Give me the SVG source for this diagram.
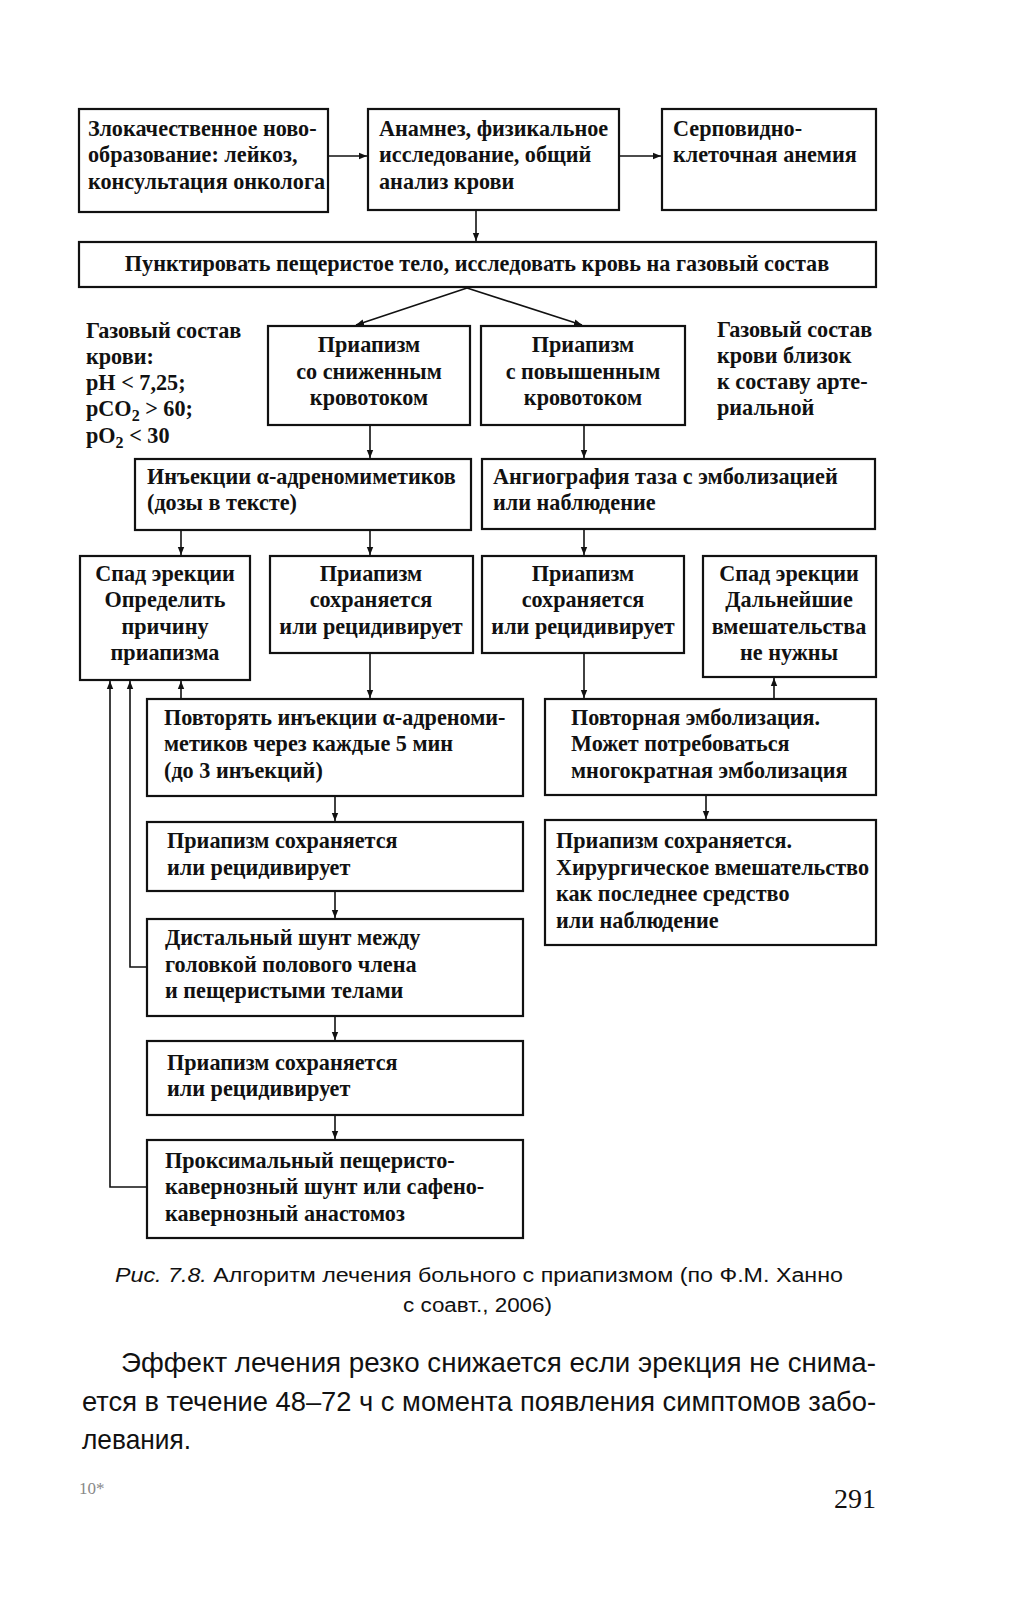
<svg xmlns="http://www.w3.org/2000/svg" width="1030" height="1600" viewBox="0 0 1030 1600">
<style>
.box{fill:#fff;stroke:#111;stroke-width:2.2}
.t{font-family:"Liberation Serif","Times New Roman",serif;font-size:22.2px;font-weight:bold;fill:#111}
.c{text-anchor:middle}
.ln{fill:none;stroke:#111;stroke-width:1.6}
.cap{font-family:"Liberation Sans",Arial,sans-serif;font-size:20px;fill:#111}
.body{font-family:"Liberation Sans",Arial,sans-serif;font-size:27.5px;fill:#111}
</style>
<defs>
<marker id="ah" viewBox="0 0 10 10" refX="10" refY="5" markerWidth="8" markerHeight="8" markerUnits="userSpaceOnUse" orient="auto">
<path d="M0,1 L10,5 L0,9 Z" fill="#111"/>
</marker>
</defs>
<rect width="1030" height="1600" fill="#fff"/>

<g id="connectors">
<line class="ln" x1="328" y1="156" x2="367" y2="156" marker-end="url(#ah)"/>
<line class="ln" x1="619" y1="156" x2="661" y2="156" marker-end="url(#ah)"/>
<line class="ln" x1="476" y1="210" x2="476" y2="241" marker-end="url(#ah)"/>
<line class="ln" x1="467" y1="288" x2="356" y2="325" marker-end="url(#ah)"/>
<line class="ln" x1="467" y1="288" x2="582" y2="325" marker-end="url(#ah)"/>
<line class="ln" x1="370" y1="425" x2="370" y2="458" marker-end="url(#ah)"/>
<line class="ln" x1="584" y1="425" x2="584" y2="458" marker-end="url(#ah)"/>
<line class="ln" x1="181" y1="530" x2="181" y2="555" marker-end="url(#ah)"/>
<line class="ln" x1="370" y1="530" x2="370" y2="555" marker-end="url(#ah)"/>
<line class="ln" x1="584" y1="529" x2="584" y2="555" marker-end="url(#ah)"/>
<line class="ln" x1="370" y1="653" x2="370" y2="698" marker-end="url(#ah)"/>
<line class="ln" x1="584" y1="653" x2="584" y2="698" marker-end="url(#ah)"/>
<line class="ln" x1="774" y1="699" x2="774" y2="678" marker-end="url(#ah)"/>
<line class="ln" x1="181" y1="699" x2="181" y2="681" marker-end="url(#ah)"/>
<line class="ln" x1="706" y1="795" x2="706" y2="819" marker-end="url(#ah)"/>
<line class="ln" x1="335" y1="796" x2="335" y2="821" marker-end="url(#ah)"/>
<line class="ln" x1="335" y1="891" x2="335" y2="918" marker-end="url(#ah)"/>
<line class="ln" x1="335" y1="1016" x2="335" y2="1040" marker-end="url(#ah)"/>
<line class="ln" x1="335" y1="1115" x2="335" y2="1139" marker-end="url(#ah)"/>
<polyline class="ln" points="147,967 130,967 130,681" marker-end="url(#ah)"/>
<polyline class="ln" points="147,1187 110,1187 110,681" marker-end="url(#ah)"/>
</g>

<g id="n-malign">
<rect class="box" x="79" y="109" width="249" height="103"/>
<text class="t" x="88" y="136">Злокачественное ново-</text>
<text class="t" x="88" y="162">образование: лейкоз,</text>
<text class="t" x="88" y="189">консультация онколога</text>
</g>
<g id="n-anamnesis">
<rect class="box" x="368" y="109" width="251" height="101"/>
<text class="t" x="379" y="136">Анамнез, физикальное</text>
<text class="t" x="379" y="162">исследование, общий</text>
<text class="t" x="379" y="189">анализ крови</text>
</g>
<g id="n-sickle">
<rect class="box" x="662" y="109" width="214" height="101"/>
<text class="t" x="673" y="136">Серповидно-</text>
<text class="t" x="673" y="162">клеточная анемия</text>
</g>
<g id="n-puncture">
<rect class="box" x="79" y="242" width="797" height="45"/>
<text class="t c" x="477" y="271">Пунктировать пещеристое тело, исследовать кровь на газовый состав</text>
</g>
<g id="note-left">
<text class="t" x="86" y="338">Газовый состав</text>
<text class="t" x="86" y="364">крови:</text>
<text class="t" x="86" y="390">pH &lt; 7,25;</text>
<text class="t" x="86" y="416">pCO<tspan font-size="16" dy="5">2</tspan><tspan dy="-5"> &gt; 60;</tspan></text>
<text class="t" x="86" y="443">pO<tspan font-size="16" dy="5">2</tspan><tspan dy="-5"> &lt; 30</tspan></text>
</g>
<g id="note-right">
<text class="t" x="717" y="337">Газовый состав</text>
<text class="t" x="717" y="363">крови близок</text>
<text class="t" x="717" y="389">к составу арте-</text>
<text class="t" x="717" y="415">риальной</text>
</g>
<g id="n-lowflow">
<rect class="box" x="268" y="326" width="202" height="99"/>
<text class="t c" x="369" y="352">Приапизм</text>
<text class="t c" x="369" y="379">со сниженным</text>
<text class="t c" x="369" y="405">кровотоком</text>
</g>
<g id="n-highflow">
<rect class="box" x="481" y="326" width="204" height="99"/>
<text class="t c" x="583" y="352">Приапизм</text>
<text class="t c" x="583" y="379">с повышенным</text>
<text class="t c" x="583" y="405">кровотоком</text>
</g>
<g id="n-inject">
<rect class="box" x="135" y="459" width="336" height="71"/>
<text class="t" x="147" y="484">Инъекции α-адреномиметиков</text>
<text class="t" x="147" y="510">(дозы в тексте)</text>
</g>
<g id="n-angio">
<rect class="box" x="482" y="459" width="393" height="70"/>
<text class="t" x="493" y="484">Ангиография таза с эмболизацией</text>
<text class="t" x="493" y="510">или наблюдение</text>
</g>
<g id="n-detum1">
<rect class="box" x="80" y="556" width="170" height="124"/>
<text class="t c" x="165" y="581">Спад эрекции</text>
<text class="t c" x="165" y="607">Определить</text>
<text class="t c" x="165" y="634">причину</text>
<text class="t c" x="165" y="660">приапизма</text>
</g>
<g id="n-persist1">
<rect class="box" x="270" y="556" width="203" height="97"/>
<text class="t c" x="371" y="581">Приапизм</text>
<text class="t c" x="371" y="607">сохраняется</text>
<text class="t c" x="371" y="634">или рецидивирует</text>
</g>
<g id="n-persist2">
<rect class="box" x="482" y="556" width="202" height="97"/>
<text class="t c" x="583" y="581">Приапизм</text>
<text class="t c" x="583" y="607">сохраняется</text>
<text class="t c" x="583" y="634">или рецидивирует</text>
</g>
<g id="n-detum2">
<rect class="box" x="703" y="556" width="173" height="121"/>
<text class="t c" x="789" y="581">Спад эрекции</text>
<text class="t c" x="789" y="607">Дальнейшие</text>
<text class="t c" x="789" y="634">вмешательства</text>
<text class="t c" x="789" y="660">не нужны</text>
</g>
<g id="n-repeat">
<rect class="box" x="147" y="699" width="376" height="97"/>
<text class="t" x="164" y="725">Повторять инъекции α-адреноми-</text>
<text class="t" x="164" y="751">метиков через каждые 5 мин</text>
<text class="t" x="164" y="778">(до 3 инъекций)</text>
</g>
<g id="n-reembol">
<rect class="box" x="545" y="699" width="331" height="96"/>
<text class="t" x="571" y="725">Повторная эмболизация.</text>
<text class="t" x="571" y="751">Может потребоваться</text>
<text class="t" x="571" y="778">многократная эмболизация</text>
</g>
<g id="n-persist3">
<rect class="box" x="147" y="822" width="376" height="69"/>
<text class="t" x="167" y="848">Приапизм сохраняется</text>
<text class="t" x="167" y="875">или рецидивирует</text>
</g>
<g id="n-surgery">
<rect class="box" x="545" y="820" width="331" height="125"/>
<text class="t" x="556" y="848">Приапизм сохраняется.</text>
<text class="t" x="556" y="875">Хирургическое вмешательство</text>
<text class="t" x="556" y="901">как последнее средство</text>
<text class="t" x="556" y="928">или наблюдение</text>
</g>
<g id="n-distal">
<rect class="box" x="147" y="919" width="376" height="97"/>
<text class="t" x="165" y="945">Дистальный шунт между</text>
<text class="t" x="165" y="972">головкой полового члена</text>
<text class="t" x="165" y="998">и пещеристыми телами</text>
</g>
<g id="n-persist4">
<rect class="box" x="147" y="1041" width="376" height="74"/>
<text class="t" x="167" y="1070">Приапизм сохраняется</text>
<text class="t" x="167" y="1096">или рецидивирует</text>
</g>
<g id="n-proximal">
<rect class="box" x="147" y="1140" width="376" height="98"/>
<text class="t" x="165" y="1168">Проксимальный пещеристо-</text>
<text class="t" x="165" y="1194">кавернозный шунт или сафено-</text>
<text class="t" x="165" y="1221">кавернозный анастомоз</text>
</g>

<g id="caption">
<text class="cap" x="115" y="1282" textLength="728" lengthAdjust="spacingAndGlyphs"><tspan font-style="italic">Рис. 7.8.</tspan> Алгоритм лечения больного с приапизмом (по Ф.М. Ханно</text>
<text class="cap" x="403" y="1312" textLength="149" lengthAdjust="spacingAndGlyphs">с соавт., 2006)</text>
</g>
<g id="body">
<text class="body" x="121" y="1372" textLength="755" lengthAdjust="spacingAndGlyphs">Эффект лечения резко снижается если эрекция не снима-</text>
<text class="body" x="82" y="1411" textLength="794" lengthAdjust="spacingAndGlyphs">ется в течение 48–72 ч с момента появления симптомов забо-</text>
<text class="body" x="82" y="1449" textLength="109" lengthAdjust="spacingAndGlyphs">левания.</text>
<text font-family="Liberation Serif,serif" font-size="17" fill="#888" x="79" y="1494">10*</text>
<text font-family="Liberation Serif,serif" font-size="28" fill="#111" x="876" y="1508" text-anchor="end">291</text>
</g>
</svg>
